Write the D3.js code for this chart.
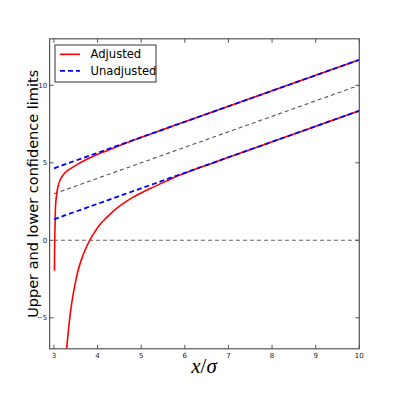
<!DOCTYPE html>
<html>
<head>
<meta charset="utf-8">
<script src="https://cdn.jsdelivr.net/npm/d3@7"></script>
<style>
  html, body { margin: 0; padding: 0; background: #fff; }
  svg { display: block; }
</style>
</head>
<body>
<div id="chart"></div>
<script>
// Limits
const xTicks = [3, 4, 5, 6, 7, 8, 9, 10];
const yTicks = [-5, 0, 5, 10];

const unadjX = [3, 10];
const unadjUpper = [4.645, 11.645];
const unadjLower = [1.355, 8.355];

const diagX = [3, 10];
const diagY = [3, 10];
const zeroX = [3, 10];
const zeroY = [0, 0];

const adjUpperX = [3.012, 3.017, 3.026, 3.033, 3.044, 3.063, 3.096, 3.16, 3.22, 3.29, 3.4, 3.54, 3.7, 3.9, 4.1, 4.37, 4.6, 4.85, 5.1, 5.36, 6, 7, 8, 9, 10];
const adjUpperY = [-1.96, 0, 1.0, 2.0, 2.5, 3.0, 3.5, 4.0, 4.25, 4.45, 4.66, 4.9, 5.15, 5.42, 5.66, 5.96, 6.22, 6.48, 6.74, 7.0, 7.645, 8.645, 9.645, 10.645, 11.645];

const adjLowerX = [3.29, 3.325, 3.362, 3.41, 3.472, 3.548, 3.66, 3.75, 3.82, 3.95, 4.05, 4.2, 4.41, 4.6, 4.8, 4.96, 5.25, 5.5, 5.73, 6.0, 6.25, 6.66, 7, 8, 9, 10];
const adjLowerY = [-7.0, -6.0, -5.0, -4.0, -3.0, -2.0, -1.0, -0.4, 0.0, 0.6, 1.0, 1.45, 2.0, 2.4, 2.75, 3.0, 3.4, 3.72, 4.02, 4.33, 4.6, 5.01, 5.355, 6.355, 7.355, 8.355];

const legendLabels = ["Adjusted", "Unadjusted"];

const W = 399, H = 399;
const plot = { left: 49.6, right: 359.3, top: 38.8, bottom: 348.8 };

const x = d3.scaleLinear().domain([2.9, 10]).range([plot.left, plot.right]);
const y = d3.scaleLinear().domain([-7, 13]).range([plot.bottom, plot.top]);

const svg = d3.select("#chart").append("svg")
  .attr("width", W).attr("height", H)
  .attr("viewBox", `0 0 ${W} ${H}`);

svg.append("defs").append("clipPath").attr("id", "clip")
  .append("rect")
  .attr("x", plot.left).attr("y", plot.top)
  .attr("width", plot.right - plot.left)
  .attr("height", plot.bottom - plot.top);

const line = d3.line().x(d => x(d[0])).y(d => y(d[1])).curve(d3.curveMonotoneX);
const zip = (a, b) => a.map((v, i) => [v, b[i]]);

const g = svg.append("g").attr("clip-path", "url(#clip)");

// reference lines
g.append("path").datum(zip(zeroX, zeroY))
  .attr("d", line).attr("fill", "none")
  .attr("stroke", "#666").attr("stroke-width", 1.1)
  .attr("stroke-dasharray", "4,3");
g.append("path").datum(zip(diagX, diagY))
  .attr("d", line).attr("fill", "none")
  .attr("stroke", "#555").attr("stroke-width", 1.1)
  .attr("stroke-dasharray", "4,3");

// adjusted (red solid)
[zip(adjUpperX, adjUpperY), zip(adjLowerX, adjLowerY)].forEach(d => {
  g.append("path").datum(d)
    .attr("d", line).attr("fill", "none")
    .attr("stroke", "#ff0000").attr("stroke-width", 1.6);
});

// unadjusted (blue dashed)
[zip(unadjX, unadjUpper), zip(unadjX, unadjLower)].forEach(d => {
  g.append("path").datum(d)
    .attr("d", line).attr("fill", "none")
    .attr("stroke", "#0000ff").attr("stroke-width", 1.8)
    .attr("stroke-dasharray", "5,3");
});

// frame
svg.append("rect")
  .attr("x", plot.left).attr("y", plot.top)
  .attr("width", plot.right - plot.left)
  .attr("height", plot.bottom - plot.top)
  .attr("fill", "none").attr("stroke", "#555").attr("stroke-width", 1.2);

// ticks pointing inward on all four sides
const tickLen = 4;
const tk = svg.append("g").attr("stroke", "#555").attr("stroke-width", 1);
xTicks.forEach(t => {
  tk.append("line").attr("x1", x(t)).attr("x2", x(t))
    .attr("y1", plot.bottom).attr("y2", plot.bottom - tickLen);
  tk.append("line").attr("x1", x(t)).attr("x2", x(t))
    .attr("y1", plot.top).attr("y2", plot.top + tickLen);
});
yTicks.forEach(t => {
  tk.append("line").attr("y1", y(t)).attr("y2", y(t))
    .attr("x1", plot.left).attr("x2", plot.left + tickLen);
  tk.append("line").attr("y1", y(t)).attr("y2", y(t))
    .attr("x1", plot.right).attr("x2", plot.right - tickLen);
});

const font = "'DejaVu Sans', sans-serif";
svg.append("g").selectAll("text").data(xTicks).join("text")
  .attr("x", d => x(d)).attr("y", plot.bottom + 9.5)
  .attr("text-anchor", "middle")
  .attr("font-family", font).attr("font-size", "7px").attr("fill", "#222")
  .text(d => d);
svg.append("g").selectAll("text").data(yTicks).join("text")
  .attr("x", plot.left - 2.5).attr("y", d => y(d)).attr("dy", "0.35em")
  .attr("text-anchor", "end")
  .attr("font-family", font).attr("font-size", "7px").attr("fill", "#222")
  .text(d => d < 0 ? "\u2212" + Math.abs(d) : d);

// axis labels
svg.append("text")
  .attr("transform", `translate(37.5,${(plot.top + plot.bottom) / 2}) rotate(-90)`)
  .attr("text-anchor", "middle")
  .attr("font-family", font).attr("font-size", "14.5px").attr("fill", "#000")
  .text("Upper and lower confidence limits");

const xl = svg.append("text")
  .attr("x", 204).attr("y", 373)
  .attr("text-anchor", "middle")
  .attr("font-family", "'Liberation Serif', 'DejaVu Serif', serif")
  .attr("font-style", "italic").attr("font-size", "21px").attr("fill", "#000");
xl.append("tspan").text("x");
xl.append("tspan").attr("font-style", "normal").text("/");
xl.append("tspan").text("\u03c3");

// legend
const lg = svg.append("g");
lg.append("rect")
  .attr("x", 55).attr("y", 45).attr("width", 101).attr("height", 37)
  .attr("fill", "#fff").attr("stroke", "#333").attr("stroke-width", 1);
const legendStyles = [
  { color: "#ff0000", dash: null, width: 1.6 },
  { color: "#0000ff", dash: "5,3", width: 1.8 }
];
legendLabels.forEach((lab, i) => {
  const ry = 54.3 + i * 16.5;
  lg.append("line")
    .attr("x1", 60).attr("x2", 80).attr("y1", ry).attr("y2", ry)
    .attr("stroke", legendStyles[i].color)
    .attr("stroke-width", legendStyles[i].width)
    .attr("stroke-dasharray", legendStyles[i].dash);
  lg.append("text")
    .attr("x", 90.5).attr("y", ry).attr("dy", "0.36em")
    .attr("font-family", font).attr("font-size", "11.6px").attr("fill", "#000")
    .text(lab);
});
</script>
</body>
</html>
